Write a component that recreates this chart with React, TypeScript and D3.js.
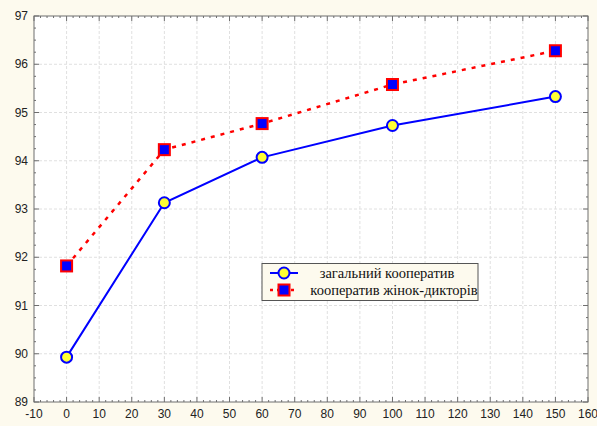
import React from "react";
import * as d3 from "d3";

const xValues = [0, 30, 60, 100, 150];
const seriesGeneral = [89.93, 93.13, 94.07, 94.73, 95.33];
const seriesFemale = [91.82, 94.23, 94.77, 95.58, 96.28];
const xTicks = d3.range(-10, 161, 10);
const yTicks = d3.range(89, 98, 1);
const labelGeneral = "загальний кооператив";
const labelFemale = "кооператив жінок-дикторів";

const W = 597, H = 426;
const L = 34, R = 588, T = 16, B = 402;

export default function App() {
  const x = d3.scaleLinear().domain([-10, 160]).range([L, R]);
  const y = d3.scaleLinear().domain([89, 97]).range([B, T]);
  const line = d3.line<number>().x((_, i) => x(xValues[i])).y((d) => y(d));
  const xMinor = d3.range(-10, 160.1, 2);
  const yMinor = d3.range(89, 97.01, 0.25);
  const axisColor = "#6e6e6e";
  return (
    <svg width={W} height={H} style={{ position: "absolute", left: 0, top: 0 }}>
      <rect x={0} y={0} width={W} height={H} fill="#fdfaee" />
      <rect x={L} y={T} width={R - L} height={B - T} fill="#ffffff" />
      {xTicks.slice(1, -1).map((t) => (
        <line key={"gx" + t} x1={x(t)} x2={x(t)} y1={T} y2={B} stroke="#e0e0e0" strokeDasharray="3,2" />
      ))}
      {yTicks.slice(1, -1).map((t) => (
        <line key={"gy" + t} x1={L} x2={R} y1={y(t)} y2={y(t)} stroke="#e0e0e0" strokeDasharray="3,2" />
      ))}
      {xMinor.map((t) => (
        <g key={"mx" + t}>
          <line x1={x(t)} x2={x(t)} y1={B} y2={B - (t % 10 === 0 ? 5 : 2)} stroke={axisColor} />
          <line x1={x(t)} x2={x(t)} y1={T} y2={T + (t % 10 === 0 ? 5 : 2)} stroke={axisColor} />
        </g>
      ))}
      {yMinor.map((t) => (
        <g key={"my" + t}>
          <line x1={L} x2={L + (Math.abs(t - Math.round(t)) < 1e-6 ? 5 : 2)} y1={y(t)} y2={y(t)} stroke={axisColor} />
          <line x1={R} x2={R - (Math.abs(t - Math.round(t)) < 1e-6 ? 5 : 2)} y1={y(t)} y2={y(t)} stroke={axisColor} />
        </g>
      ))}
      <rect x={L} y={T} width={R - L} height={B - T} fill="none" stroke={axisColor} strokeWidth={1} />
      {yTicks.map((t) => (
        <text key={"ly" + t} x={L - 6} y={y(t)} dy="0.35em" textAnchor="end" fontFamily="Liberation Sans, Arial, sans-serif" fontSize={12} fill="#222">
          {t}
        </text>
      ))}
      {xTicks.map((t) => (
        <text key={"lx" + t} x={x(t)} y={B + 16} textAnchor="middle" fontFamily="Liberation Sans, Arial, sans-serif" fontSize={12} fill="#222">
          {t}
        </text>
      ))}
      <path d={line(seriesFemale) || ""} fill="none" stroke="#ff0000" strokeWidth={2.5} strokeDasharray="4,6" />
      <path d={line(seriesGeneral) || ""} fill="none" stroke="#0000ff" strokeWidth={2} />
      {seriesGeneral.map((v, i) => (
        <circle key={"c" + i} cx={x(xValues[i])} cy={y(v)} r={5.5} fill="#ffff33" stroke="#0000ff" strokeWidth={2} />
      ))}
      {seriesFemale.map((v, i) => (
        <rect key={"s" + i} x={x(xValues[i]) - 5.5} y={y(v) - 5.5} width={11} height={11} fill="#0000ff" stroke="#ff0000" strokeWidth={2} />
      ))}
      <g>
        <rect x={262} y={263.5} width={216} height={37} fill="#fdfaee" stroke="#555" strokeWidth={1} />
        <line x1={270} x2={298} y1={273} y2={273} stroke="#0000ff" strokeWidth={2} />
        <circle cx={284} cy={273} r={5.5} fill="#ffff33" stroke="#0000ff" strokeWidth={2} />
        <line x1={270} x2={298} y1={290} y2={290} stroke="#ff0000" strokeWidth={2.5} strokeDasharray="3,4" />
        <rect x={278.5} y={284.5} width={11} height={11} fill="#0000ff" stroke="#ff0000" strokeWidth={2} />
        <text x={387} y={278} textAnchor="middle" fontFamily="Liberation Serif, Times New Roman, serif" fontSize={14.5} fill="#111">{labelGeneral}</text>
        <text x={394} y={295} textAnchor="middle" fontFamily="Liberation Serif, Times New Roman, serif" fontSize={14.5} fill="#111">{labelFemale}</text>
      </g>
    </svg>
  );
}
